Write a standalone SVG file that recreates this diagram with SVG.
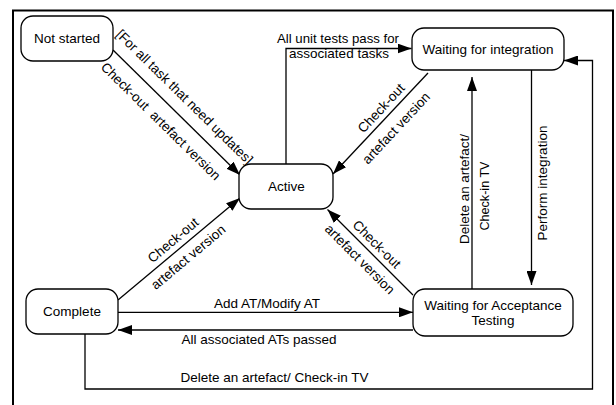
<svg xmlns="http://www.w3.org/2000/svg" width="616" height="405" viewBox="0 0 616 405">
<style>
  text { font-family: "Liberation Sans", Arial, sans-serif; font-size: 13.5px; fill: #000; }
  .node rect { fill: #fff; stroke: #000; stroke-width: 1.3; }
  .c { text-anchor: middle; }
  #connectors path { fill: none; stroke: #000; stroke-width: 1.3; }
</style>
<defs>
  <marker id="arr" markerUnits="userSpaceOnUse" viewBox="0 0 14 10" refX="14" refY="5" markerWidth="14" markerHeight="10" orient="auto">
    <path d="M0,0 L14,5 L0,10 z" fill="#000"/>
  </marker>
</defs>
<rect x="0" y="0" width="616" height="405" fill="#fff"/>
<rect x="13" y="10.5" width="600" height="410" fill="none" stroke="#000" stroke-width="2"/>

<g id="connectors">
  <path d="M113,50 L240,175" marker-end="url(#arr)"/>
  <path d="M286,164 V48.5 H411.5" marker-end="url(#arr)"/>
  <path d="M428,73 L333,174" marker-end="url(#arr)"/>
  <path d="M118,300 L240,198" marker-end="url(#arr)"/>
  <path d="M118,312.3 H413" marker-end="url(#arr)"/>
  <path d="M413,330 H118" marker-end="url(#arr)"/>
  <path d="M85,334 V389 H592.5 V60.5 H564" marker-end="url(#arr)"/>
  <path d="M472,289 V77" marker-end="url(#arr)"/>
  <path d="M531.5,70 V285" marker-end="url(#arr)"/>
  <path d="M413,295 L327.5,209.5" marker-end="url(#arr)"/>

  <text class="c" xml:space="preserve" transform="translate(184.7,96.8) rotate(44.5)" y="4.8">[For all task that need updates]</text>
  <text class="c" xml:space="preserve" transform="translate(160.9,121) rotate(44.5)" y="4.8">Check-out  artefact version</text>
  <text class="c" x="338" y="43.3" textLength="122" lengthAdjust="spacingAndGlyphs">All unit tests pass for</text>
  <text class="c" x="339" y="58">associated tasks</text>
  <text class="c" transform="translate(381,108) rotate(-47)" y="4.8">Check-out</text>
  <text class="c" transform="translate(396,128) rotate(-47)" y="4.8">artefact version</text>
  <text class="c" transform="translate(173,240) rotate(-40)" y="4.8">Check-out</text>
  <text class="c" transform="translate(188,257) rotate(-40)" y="4.8">artefact version</text>
  <text class="c" transform="translate(377,244) rotate(45)" y="4.8">Check-out</text>
  <text class="c" transform="translate(360,259) rotate(45)" y="4.8">artefact version</text>
  <text class="c" x="267" y="308">Add AT/Modify AT</text>
  <text class="c" x="259" y="344">All associated ATs passed</text>
  <text class="c" x="274.5" y="381.5">Delete an artefact/ Check-in TV</text>
  <text class="c" transform="translate(464.2,189) rotate(-90)" y="4.8" textLength="110" lengthAdjust="spacingAndGlyphs">Delete an artefact/</text>
  <text class="c" transform="translate(484.2,196) rotate(-90)" y="4.8" textLength="69" lengthAdjust="spacingAndGlyphs">Check-in TV</text>
  <text class="c" transform="translate(541.9,183) rotate(-90)" y="4.8">Perform integration</text>
</g>

<g id="not-started" class="node">
  <rect x="21" y="16" width="92" height="45" rx="12"/>
  <text class="c" x="67" y="43.3">Not started</text>
</g>
<g id="active" class="node">
  <rect x="239" y="164" width="94" height="45" rx="12"/>
  <text class="c" x="286.5" y="191">Active</text>
</g>
<g id="waiting-integration" class="node">
  <rect x="412" y="28" width="152" height="42" rx="12"/>
  <text class="c" x="488" y="53.8">Waiting for integration</text>
</g>
<g id="complete" class="node">
  <rect x="26" y="289" width="92" height="45" rx="12"/>
  <text class="c" x="72" y="316.3">Complete</text>
</g>
<g id="waiting-acceptance" class="node">
  <rect x="413" y="289" width="160" height="47" rx="12"/>
  <text class="c" x="493" y="310">Waiting for Acceptance</text>
  <text class="c" x="493" y="325">Testing</text>
</g>
</svg>
